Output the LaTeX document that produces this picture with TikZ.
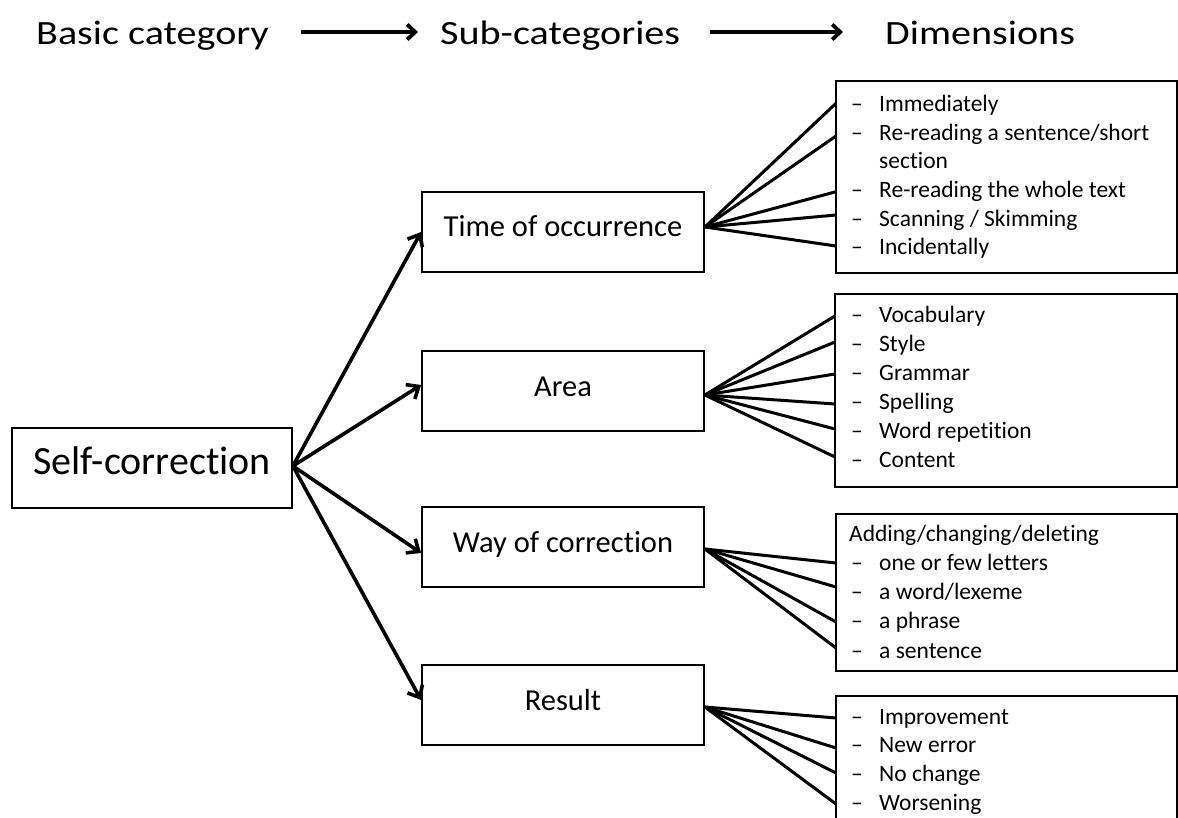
\documentclass[tikz,border=0pt]{standalone}
\usepackage{fontspec}
\setmainfont[Ligatures=NoCommon]{Carlito}
\usetikzlibrary{arrows.meta}
% bullet line of a dimension list: dash, then the text in its own column
\newcommand\dashitem[1]{\makebox[28pt][l]{–}#1}
\begin{document}
\begin{tikzpicture}[x=1pt,y=-1pt,
  heading/.style={font=\fontsize{34}{40}\selectfont,inner sep=0pt,anchor=base west,text height=30pt,text depth=4pt},
  headarrow/.style={line width=3.8pt,-{Straight Barb[length=8pt,width=15pt]}},
  rootbox/.style={draw,line width=1.8pt,minimum width=280pt,minimum height=80pt,inner sep=0pt,
    font=\fontsize{40}{48}\selectfont,text height=26pt,text depth=14pt},
  subbox/.style={draw,line width=1.8pt,minimum width=282pt,minimum height=80pt,inner sep=0pt,
    font=\fontsize{30.5}{36}\selectfont,text height=20pt,text depth=10pt},
  dimbox/.style={draw,line width=1.8pt,inner sep=0pt},
  branch/.style={line width=3.6pt,-{Straight Barb[length=10pt,width=17pt]}},
  fan/.style={line width=3pt},
  item/.style={font=\fontsize{23.5}{28}\selectfont,inner sep=0pt,anchor=base west}
]
\useasboundingbox (0,0) rectangle (1178,818);

% ---- column headings ----
\node[heading] (hbasic) at (36,45) {\scalebox{1.18}[1]{Basic category}};
\node[heading] (hsub)   at (440,45) {\scalebox{1.18}[1]{Sub-categories}};
\node[heading] (hdim)   at (885,45) {\scalebox{1.18}[1]{Dimensions}};
\draw[headarrow] ([xshift=32pt]hbasic.east) -- ([xshift=-22pt]hsub.west);
\draw[headarrow] ([xshift=30pt]hsub.east) -- ([xshift=-42pt]hdim.west);

% ---- basic category and sub-categories ----
\node[rootbox] (sc) at (152,468) {Self-correction};
\node[subbox] (time) at (563,232) {Time of occurrence};
\node[subbox] (area) at (563,391) {Area};
\node[subbox] (way)  at (563,547) {Way of correction};
\node[subbox] (res)  at (563,705) {Result};

\draw[branch] ([yshift=2pt]sc.east) -- (time.west);
\draw[branch] ([yshift=2pt]sc.east) -- ([yshift=6pt]area.west);
\draw[branch] ([yshift=2pt]sc.east) -- ([yshift=-6pt]way.west);
\draw[branch] ([yshift=2pt]sc.east) -- ([yshift=5pt]res.west);

% ---- dimension boxes ----
\node[dimbox,minimum width=341pt,minimum height=192pt] (dt) at (1006.5,177) {};
\node[dimbox,minimum width=342pt,minimum height=193pt] (da) at (1006,390.5) {};
\node[dimbox,minimum width=341pt,minimum height=157pt] (dw) at (1006.5,592.5) {};
\node[dimbox,minimum width=341pt,minimum height=144pt] (dr) at (1006.5,768) {};

% time of occurrence
\node[item] (t1) at (851,111.7) {\dashitem{Immediately}};
\node[item] (t2) at (851,140.4) {\dashitem{Re-reading a sentence/short}};
\node[item] (t3) at (879,169)   {section};
\node[item] (t4) at (851,197.7) {\dashitem{Re-reading the whole text}};
\node[item] (t5) at (851,226.4) {\dashitem{Scanning / Skimming}};
\node[item] (t6) at (851,255)   {\dashitem{Incidentally}};

% area
\node[item] (a1) at (851,322.3) {\dashitem{Vocabulary}};
\node[item] (a2) at (851,351.5) {\dashitem{Style}};
\node[item] (a3) at (851,380.7) {\dashitem{Grammar}};
\node[item] (a4) at (851,409.6) {\dashitem{Spelling}};
\node[item] (a5) at (851,438.6) {\dashitem{Word repetition}};
\node[item] (a6) at (851,467.7) {\dashitem{Content}};

% way of correction
\node[item] (w0) at (849,541.7) {Adding/changing/deleting};
\node[item] (w1) at (851,570.5) {\dashitem{one or few letters}};
\node[item] (w2) at (851,599.6) {\dashitem{a word/lexeme}};
\node[item] (w3) at (851,628.9) {\dashitem{a phrase}};
\node[item] (w4) at (851,658)   {\dashitem{a sentence}};

% result
\node[item] (r1) at (851,724)   {\dashitem{Improvement}};
\node[item] (r2) at (851,752.8) {\dashitem{New error}};
\node[item] (r3) at (851,781.5) {\dashitem{No change}};
\node[item] (r4) at (851,810.3) {\dashitem{Worsening}};

% ---- fan lines into the dimension boxes ----
\foreach \y [count=\i] in {103.3,136,191.7,215,246}
  \coordinate (dt\i) at (836,\y);
\foreach \y [count=\i] in {316,342,374,404,429,457}
  \coordinate (da\i) at (835,\y);
\foreach \y [count=\i] in {563,587,622,648}
  \coordinate (dw\i) at (836,\y);
\foreach \y [count=\i] in {718,748,773,804}
  \coordinate (dr\i) at (836,\y);

\foreach \i in {1,...,5} \draw[fan] ([yshift=5pt]time.east) -- (dt\i);
\foreach \i in {1,...,6} \draw[fan] ([yshift=-4pt]area.east) -- (da\i);
\foreach \i in {1,...,4} \draw[fan] ([yshift=-2pt]way.east) -- (dw\i);
\foreach \i in {1,...,4} \draw[fan] ([yshift=-2pt]res.east) -- (dr\i);
\end{tikzpicture}
\end{document}
